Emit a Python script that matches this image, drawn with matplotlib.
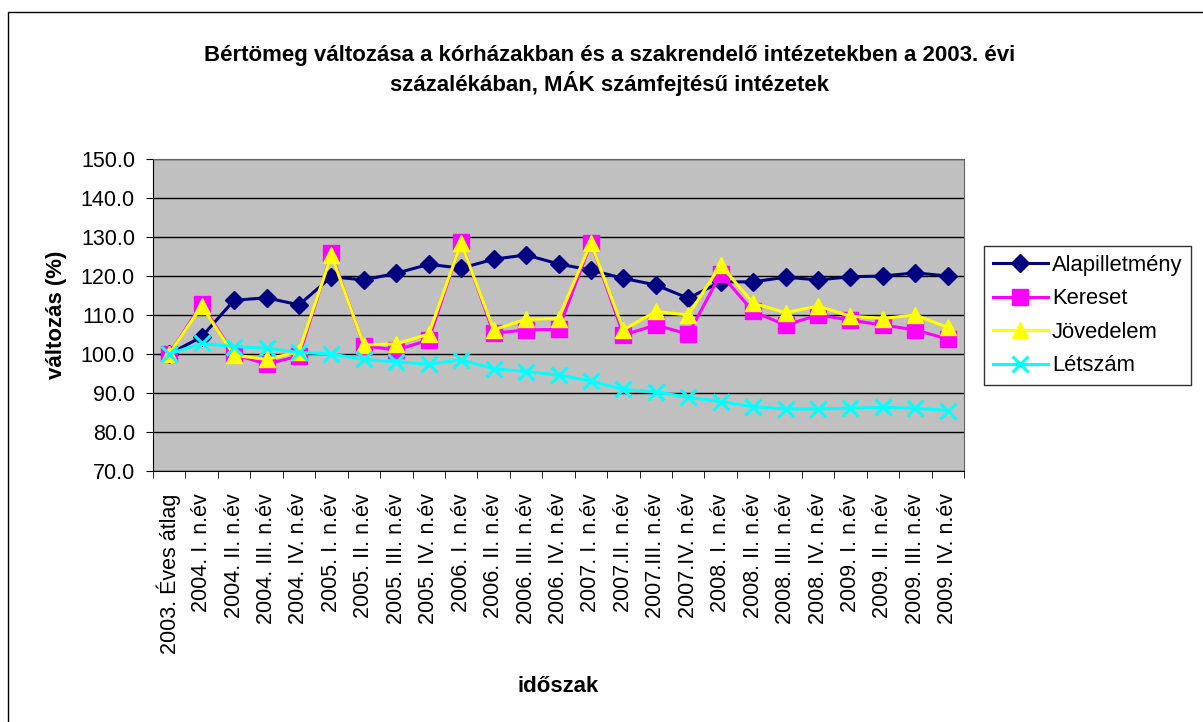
import numpy as np
import matplotlib
matplotlib.use("Agg")
import matplotlib.pyplot as plt
from matplotlib.patches import Rectangle
from matplotlib.ticker import FixedLocator

plt.rcParams['font.family'] = ['Liberation Sans', 'DejaVu Sans']

# x-axis categories
periods = ['2003. Éves átlag',
           '2004. I. n.év', '2004. II. n.év', '2004. III. n.év', '2004. IV. n.év',
           '2005. I. n.év', '2005. II. n.év', '2005. III. n.év', '2005. IV. n.év',
           '2006. I. n.év', '2006. II. n.év', '2006. III. n.év', '2006. IV. n.év',
           '2007. I. n.év', '2007.II. n.év', '2007.III. n.év', '2007.IV. n.év',
           '2008. I. n.év', '2008. II. n.év', '2008. III. n.év', '2008. IV. n.év',
           '2009. I. n.év', '2009. II. n.év', '2009. III. n.év', '2009. IV. n.év']

# series values (% of 2003 level)
alapilletmeny = [100.0, 104.4, 113.8, 114.4, 112.6, 119.8, 119.0, 120.7, 123.0,
                 122.0, 124.3, 125.4, 123.1, 121.5, 119.4, 117.7, 114.3,
                 118.5, 118.5, 119.7, 119.0, 119.8, 120.0, 120.8, 120.0]
kereset = [100.0, 112.8, 99.9, 97.4, 99.5, 125.8, 102.1, 101.0, 103.6,
           128.8, 105.3, 106.2, 106.3, 128.5, 104.9, 107.4, 105.1,
           120.5, 110.9, 107.4, 110.0, 108.7, 107.4, 106.2, 103.8]
jovedelem = [100.0, 112.3, 99.7, 98.6, 100.6, 125.4, 102.3, 102.6, 105.1,
             128.5, 106.2, 108.9, 109.1, 128.5, 106.2, 110.9, 110.0,
             122.8, 113.0, 110.6, 112.3, 109.7, 109.1, 110.0, 106.8]
letszam = [100.0, 102.7, 101.9, 101.5, 100.4, 100.0, 98.6, 98.0, 97.4,
           98.5, 96.2, 95.5, 94.6, 93.1, 90.9, 90.3, 88.9,
           87.8, 86.5, 85.9, 85.9, 86.1, 86.3, 86.1, 85.5]

y_ticks = [70.0, 80.0, 90.0, 100.0, 110.0, 120.0, 130.0, 140.0, 150.0]

fig = plt.figure(figsize=(12.03, 7.22), dpi=100)
ax = fig.add_axes([153 / 1203, 1 - 471 / 722, 811 / 1203, 312 / 722])
ax.set_facecolor('#C0C0C0')

x = np.arange(len(periods))
ax.plot(x, alapilletmeny, color='#000080', marker='D', markersize=9, lw=2.2, label='Alapilletmény', zorder=3)
ax.plot(x, kereset, color='#FF00FF', marker='s', markersize=11, lw=2.2, label='Kereset', zorder=4)
ax.plot(x, jovedelem, color='#FFFF00', marker='^', markersize=12, lw=2.2, label='Jövedelem', zorder=5)
ax.plot(x, letszam, color='#00FFFF', marker='x', markersize=11, mew=2.2, lw=2.2, label='Létszám', zorder=6)

ax.set_xlim(-0.5, len(periods) - 0.5)
ax.set_ylim(70, 150)
ax.set_yticks(y_ticks)
ax.set_yticklabels([f'{v:.1f}' for v in y_ticks], fontsize=15.5)
ax.yaxis.grid(True, color='black', lw=1)
ax.set_axisbelow(True)

ax.set_xticks(x)
ax.set_xticklabels(periods, rotation=90, fontsize=15.5)
ax.tick_params(axis='x', which='major', length=0, pad=16)
ax.xaxis.set_minor_locator(FixedLocator(np.arange(-0.5, len(periods), 1.0)))
ax.tick_params(axis='x', which='minor', length=5, color='black')
ax.tick_params(axis='y', length=5, pad=8)

for s in ax.spines.values():
    s.set_color('#606060')
ax.spines['left'].set_color('black')
ax.spines['bottom'].set_color('black')

ax.set_ylabel('változás (%)', fontsize=16, fontweight='bold', labelpad=10)
ax.set_xlabel('időszak', fontsize=16, fontweight='bold', labelpad=16)

fig.text(0.507, 1 - 71 / 722,
         'Bértömeg változása a kórházakban és a szakrendelő intézetekben a 2003. évi\n'
         'százalékában, MÁK számfejtésű intézetek',
         ha='center', va='center', fontsize=16, fontweight='bold', linespacing=1.25)

leg = ax.legend(loc='upper left', bbox_to_anchor=(984 / 1203, 1 - 246 / 722),
                bbox_transform=fig.transFigure, fontsize=15.8, frameon=True,
                fancybox=False, edgecolor='black', handlelength=2.5,
                borderpad=0.4, labelspacing=0.57, handletextpad=0.2,
                borderaxespad=0)
leg.get_frame().set_linewidth(1)

# outer chart frame: only its left and top edges fall inside the image
fig.patches.append(Rectangle((8 / 1203, -0.05), 1.2, 1 - 12 / 722 + 0.05,
                             transform=fig.transFigure, fill=False,
                             edgecolor='black', lw=1))

fig.savefig('out.png', dpi=100)
